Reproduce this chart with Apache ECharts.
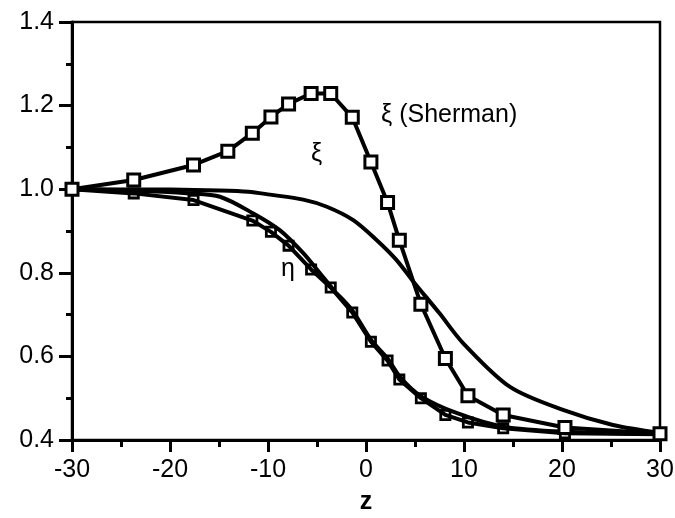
<!DOCTYPE html>
<html>
<head>
<meta charset="utf-8">
<script src="https://cdn.jsdelivr.net/npm/echarts@6/dist/echarts.min.js"></script>
<style>
  html, body { margin: 0; padding: 0; background: #fff; }
  #chart { width: 675px; height: 518px; }
</style>
</head>
<body>
<div id="chart"></div>
<script>
// xi (Sherman), open squares
var shermanZ = [-30, -23.7, -17.6, -14.1, -11.6, -9.7, -7.9, -5.6, -3.6, -1.4, 0.5, 2.2, 3.4, 5.6, 8.1, 10.4, 14.0, 20.3, 30];
var shermanXi = [1.0, 1.022, 1.058, 1.091, 1.134, 1.173, 1.204, 1.229, 1.229, 1.172, 1.065, 0.968, 0.878, 0.725, 0.595, 0.506, 0.460, 0.430, 0.415];

// eta, squares with a dot
var etaZ = [-30, -23.7, -17.6, -11.6, -9.7, -7.9, -5.6, -3.6, -1.4, 0.5, 2.2, 3.4, 5.6, 8.1, 10.4, 14.0, 20.3, 30];
var etaPts = [1.0, 0.99, 0.974, 0.925, 0.898, 0.865, 0.808, 0.765, 0.705, 0.635, 0.59, 0.545, 0.50, 0.46, 0.442, 0.428, 0.416, 0.414];

// xi, plain curve
var xiZ = [-30, -20, -15, -12, -9.8, -6.4, -4.0, -1.3, 1.1, 3.1, 4.8, 7.5, 9.9, 14.7, 20.1, 25.2, 30];
var xiVals = [1.0, 0.999, 0.997, 0.994, 0.987, 0.975, 0.958, 0.926, 0.878, 0.831, 0.78, 0.703, 0.632, 0.527, 0.472, 0.436, 0.417];

// eta, plain curve
var etaLineZ = [-30, -24, -18, -14.9, -11.5, -8.8, -6.4, -4.7, -3.3, -1.4, 0.5, 2.2, 3.5, 5.6, 9.3, 14, 20.3, 30];
var etaLineVals = [1.0, 0.997, 0.99, 0.982, 0.942, 0.902, 0.847, 0.799, 0.759, 0.71, 0.64, 0.595, 0.55, 0.505, 0.464, 0.432, 0.42, 0.415];

var xTicks = [-30, -20, -10, 0, 10, 20, 30];
var yTicks = [0.4, 0.6, 0.8, 1.0, 1.2, 1.4];

function pairs(xs, ys) {
  return xs.map(function (x, i) { return [x, ys[i]]; });
}

var FONT = '"Liberation Sans", Arial, sans-serif';
var dotSquare = 'path://M0,0H10V10H0Z M2.3,2.3V7.7H7.7V2.3Z M4.2,4.2H5.8V5.8H4.2Z';

var chart = echarts.init(document.getElementById('chart'));
chart.setOption({
  animation: false,
  grid: {
    left: 72, right: 15, top: 22, bottom: 78,
    containLabel: false, outerBoundsMode: 'none',
    show: true, borderColor: '#000', borderWidth: 2.5, backgroundColor: 'transparent'
  },
  xAxis: {
    type: 'value',
    min: -30, max: 30, interval: 10,
    name: 'z', nameLocation: 'middle', nameGap: 50,
    nameTextStyle: { fontFamily: FONT, fontSize: 25, fontWeight: 'bold', color: '#000' },
    axisLine: { onZero: false, lineStyle: { color: '#000', width: 3 } },
    axisTick: { show: true, inside: false, length: 12, lineStyle: { color: '#000', width: 3 } },
    minorTick: { show: true, splitNumber: 2, length: 7, lineStyle: { color: '#000', width: 3 } },
    splitLine: { show: false },
    axisLabel: {
      margin: 18, fontFamily: FONT, fontSize: 25, color: '#000',
      formatter: function (v) { return xTicks.indexOf(v) >= 0 ? String(v) : ''; }
    }
  },
  yAxis: {
    type: 'value',
    min: 0.4, max: 1.4, interval: 0.2,
    axisLine: { onZero: false, lineStyle: { color: '#000', width: 3 } },
    axisTick: { show: true, inside: false, length: 13, lineStyle: { color: '#000', width: 3 } },
    minorTick: { show: true, splitNumber: 2, length: 6, lineStyle: { color: '#000', width: 3 } },
    splitLine: { show: false },
    axisLabel: {
      margin: 18, fontFamily: FONT, fontSize: 25, color: '#000',
      formatter: function (v) { return v.toFixed(1); }
    }
  },
  series: [
    {
      name: 'ξ', type: 'line', data: pairs(xiZ, xiVals),
      smooth: 0.3, showSymbol: false,
      lineStyle: { color: '#000', width: 4 }
    },
    {
      name: 'η', type: 'line', data: pairs(etaLineZ, etaLineVals),
      smooth: 0.3, showSymbol: false,
      lineStyle: { color: '#000', width: 4 }
    },
    {
      name: 'η pts', type: 'line', data: pairs(etaZ, etaPts),
      symbol: dotSquare, symbolSize: 12, showAllSymbol: true,
      lineStyle: { color: '#000', width: 4 },
      itemStyle: { color: '#000' }
    },
    {
      name: 'ξ (Sherman)', type: 'line', data: pairs(shermanZ, shermanXi),
      symbol: 'rect', symbolSize: 12, showAllSymbol: true,
      lineStyle: { color: '#000', width: 4 },
      itemStyle: { color: '#fff', borderColor: '#000', borderWidth: 3 }
    }
  ],
  graphic: [
    { type: 'text', left: 381, top: 103, style: { text: 'ξ (Sherman)', font: '25px ' + FONT, fill: '#000' } },
    { type: 'text', left: 311, top: 142, style: { text: 'ξ', font: '25px ' + FONT, fill: '#000' } },
    { type: 'text', left: 281, top: 257, style: { text: 'η', font: '25px ' + FONT, fill: '#000' } }
  ]
});
</script>
</body>
</html>
